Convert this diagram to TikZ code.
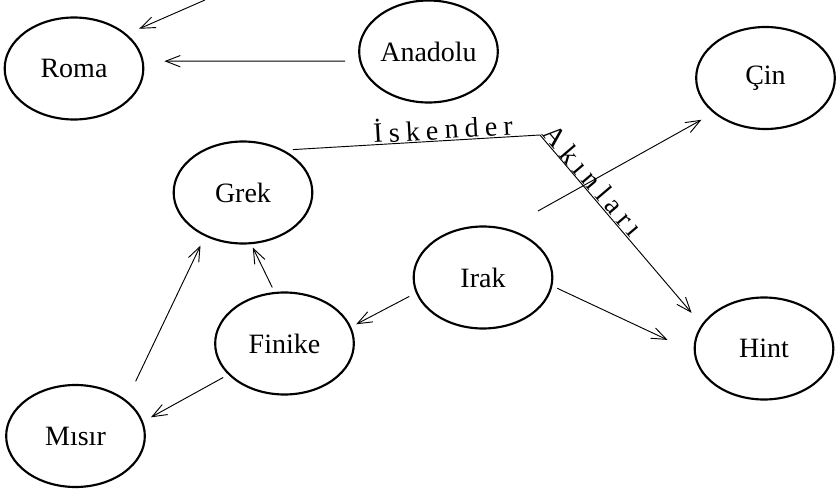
\documentclass[tikz,border=0pt]{standalone}
\usepackage{fontspec}
\setmainfont{Liberation Serif}
\usetikzlibrary{arrows.meta,shapes.geometric}

\tikzset{
  yer/.style={draw, ellipse, line width=1.6pt, minimum width=104pt, minimum height=76.5pt, inner sep=0pt, font=\fontsize{21}{25}\selectfont},
  ok/.style={line width=0.7pt, -{Straight Barb[length=11pt,width=8.5pt]}},
  yazi/.style={inner sep=0.5pt, font=\fontsize{21}{25}\selectfont\addfontfeature{LetterSpace=22}}
}

\begin{document}
\begin{tikzpicture}[x=0.75pt,y=0.75pt,yscale=-1,xscale=1]
\useasboundingbox (0,0) rectangle (836,492);

% Ellipse Nodes
\node[yer] (roma) at (74,68.5) {Roma};
\node[yer] (anadolu) at (428.5,51.5) {Anadolu};
\node[yer] (cin) at (765.5,78) {Çin};
\node[yer] (grek) at (243,192.5) {Grek};
\node[yer] (irak) at (483,277.5) {Irak};
\node[yer] (finike) at (284.5,343.5) {Finike};
\node[yer] (hint) at (764,348.5) {Hint};
\node[yer] (misir) at (75.5,436) {Mısır};

% Free ends
\coordinate (ust) at (205,0);
\coordinate (kose) at (540,135);
\coordinate (cinbas) at (538,211);

%Straight Lines
\draw[ok, shorten >=10.1pt] (ust) -- (roma.33);
\draw[ok, shorten <=10.6pt, shorten >=15.5pt] (anadolu.188) -- (roma.6);
\draw[ok, shorten >=10.3pt] (cinbas) -- (cin.214);
\draw[ok, shorten <=4pt, shorten >=21.7pt] (irak.-7) -- (hint.183);
\draw[ok, shorten <=5.5pt, shorten >=4.2pt] (irak.193) -- (finike.14);
\draw[ok, shorten <=3.7pt, shorten >=2.8pt] (finike.101) -- (grek.279);
\draw[ok, shorten <=15.7pt, shorten >=7.7pt] (misir.35) -- (grek.229);
\draw[ok, shorten <=4.3pt, shorten >=6.7pt] (finike.209) -- (misir.12);

%Iskender path
\draw[ok, shorten <=6.7pt, shorten >=11.5pt] (grek.46)
  -- node[yazi, pos=0.9, anchor=south east, rotate=3.2] {İskender} (kose)
  -- node[yazi, pos=0, anchor=south west, rotate=-49.6] {Akınları} (hint.159);

\end{tikzpicture}
\end{document}
